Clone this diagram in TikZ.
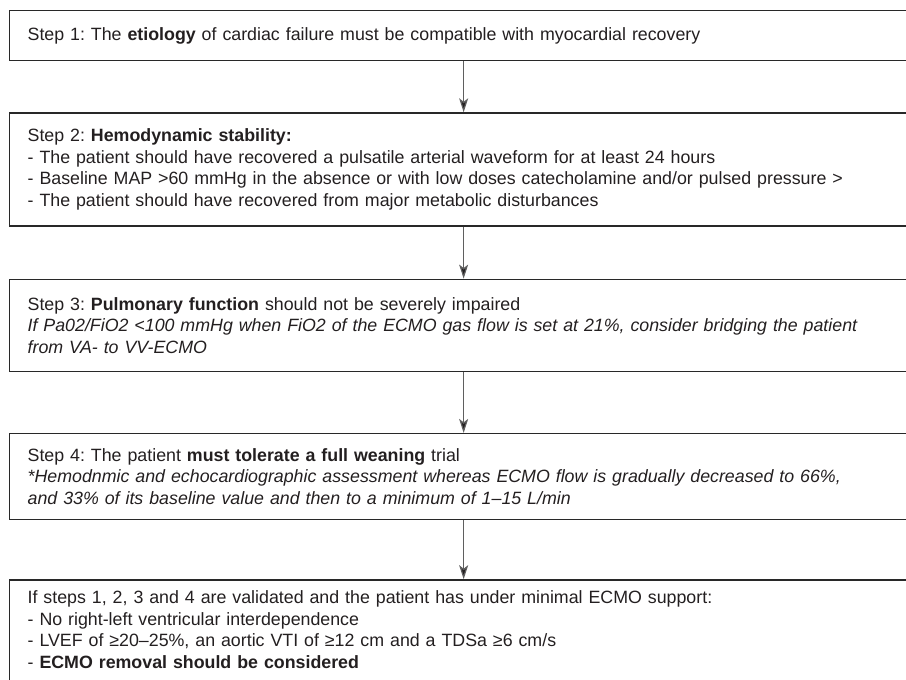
\documentclass[tikz,border=0pt]{standalone}
\usepackage{fontspec}
\setmainfont{Liberation Sans}
\usepackage{xcolor}
\usepackage{tikz}
\usetikzlibrary{positioning,arrows.meta}
\definecolor{framegray}{RGB}{40,40,40}
\definecolor{inkdark}{RGB}{35,31,32}
\definecolor{shaftgray}{RGB}{95,95,95}
\frenchspacing
\tikzset{
  stepbox/.style={draw=framegray, line width=1.3pt, text=inkdark, text width=872pt,
                  inner xsep=18pt, align=left, font=\fontsize{17.8}{21.5}\selectfont},
  arrow/.style={draw=shaftgray, line width=1.2pt,
                -{Stealth[length=14pt, width=9pt, inset=3.5pt, fill=inkdark]}},
}

\begin{document}
\begin{tikzpicture}
  \useasboundingbox (0,0) rectangle (906pt,-680pt);
  % steps
  \node[stepbox, minimum height=50pt, anchor=north west] (s1) at (9pt,-10pt)
    {Step 1: The \textbf{etiology} of cardiac failure must be compatible with myocardial recovery};
  \node[stepbox, minimum height=113pt, below=51pt of s1] (s2)
    {Step 2: \textbf{Hemodynamic stability:}\\
     - The patient should have recovered a pulsatile arterial waveform for at least 24 hours\\
     - Baseline MAP >60 mmHg in the absence or with low doses catecholamine and/or pulsed pressure >\\
     - The patient should have recovered from major metabolic disturbances};
  \node[stepbox, minimum height=92pt, below=52pt of s2] (s3)
    {Step 3: \textbf{Pulmonary function} should not be severely impaired\\
     \textit{If Pa02/FiO2 <100 mmHg when FiO2 of the ECMO gas flow is set at 21\%, consider bridging the patient}\\
     \textit{from VA- to VV-ECMO}};
  \node[stepbox, minimum height=86pt, below=61pt of s3] (s4)
    {Step 4: The patient \textbf{must tolerate a full weaning} trial\\
     \textit{*Hemodnmic and echocardiographic assessment whereas ECMO flow is gradually decreased to 66\%,}\\
     \textit{and 33\% of its baseline value and then to a minimum of 1–15 L/min}};
  \node[stepbox, inner ysep=11pt, below=59pt of s4] (s5)
    {\parbox[t][110pt][t]{\linewidth}{\raggedright
     If steps 1, 2, 3 and 4 are validated and the patient has under minimal ECMO support:\\
     - No right-left ventricular interdependence\\
     - LVEF of ≥20–25\%, an aortic VTI of ≥12 cm and a TDSa ≥6 cm/s\\
     - \textbf{ECMO removal should be considered}}};

  % arrows
  \draw[arrow] (s1) -- (s2);
  \draw[arrow] (s2) -- (s3);
  \draw[arrow] (s3) -- (s4);
  \draw[arrow] (s4) -- (s5);
\end{tikzpicture}
\end{document}
